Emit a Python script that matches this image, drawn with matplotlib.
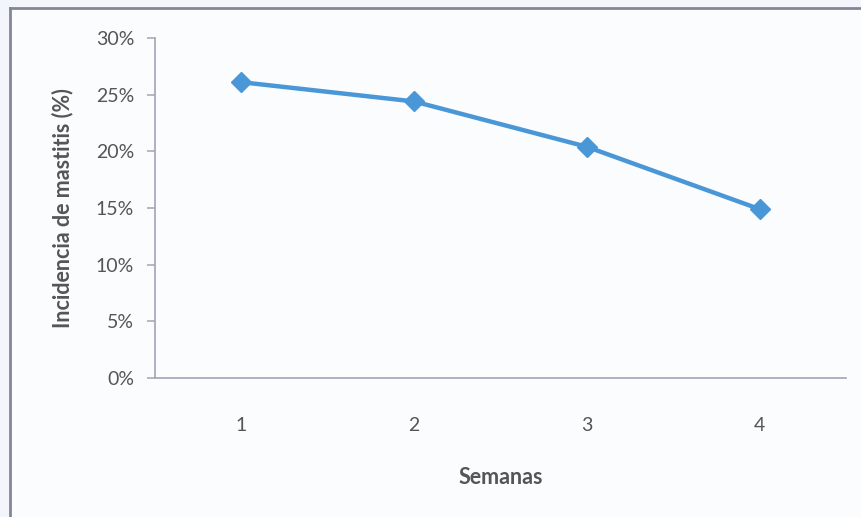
import matplotlib
matplotlib.use("Agg")
import matplotlib.pyplot as plt
from matplotlib.lines import Line2D
from matplotlib.ticker import PercentFormatter

# Weekly mastitis incidence
semanas = ["1", "2", "3", "4"]
incidencia = [26.1, 24.4, 20.4, 14.9]
y_ticks = [0, 5, 10, 15, 20, 25, 30]

plt.rcParams["font.family"] = ["Lato", "DejaVu Sans"]
text_color = "#555555"
axis_color = "#a3a3b5"
line_color = "#4a97d8"

fig = plt.figure(figsize=(8.62, 5.17), dpi=100, facecolor="#f2f5fa")

# chart frame (left and top edges)
fig.add_artist(Line2D([10 / 862, 10 / 862], [0, 1 - 8 / 517],
                      transform=fig.transFigure, color="#85859a", lw=2))
fig.add_artist(Line2D([10 / 862, 1], [1 - 8 / 517, 1 - 8 / 517],
                      transform=fig.transFigure, color="#85859a", lw=2))
fig.patches.append(plt.Rectangle((11 / 862, 0), 1, 1 - 9 / 517,
                                 transform=fig.transFigure, color="#fbfcfe",
                                 zorder=-1))

ax = fig.add_axes([155 / 862, 1 - 378 / 517, (846 - 155) / 862, (378 - 38) / 517])
ax.set_facecolor("none")

x = list(range(1, len(semanas) + 1))
ax.plot(x, incidencia, color=line_color, lw=3.2, marker="D", markersize=10,
        markeredgecolor=line_color, zorder=3)

ax.set_xlim(0.5, len(semanas) + 0.5)
ax.set_ylim(0, 30)
ax.set_xticks(x)
ax.set_xticklabels(semanas)
ax.set_yticks(y_ticks)
ax.yaxis.set_major_formatter(PercentFormatter(decimals=0))

for side in ("top", "right"):
    ax.spines[side].set_visible(False)
for side in ("left", "bottom"):
    ax.spines[side].set_color(axis_color)
    ax.spines[side].set_linewidth(1.2)

ax.tick_params(axis="y", direction="out", length=6, width=1.1, color=axis_color,
               labelsize=14, labelcolor=text_color, pad=9)
ax.tick_params(axis="x", length=0, labelsize=14, labelcolor=text_color, pad=28)

ax.set_xlabel("Semanas", fontsize=15.5, fontweight="bold", color=text_color, labelpad=24)
ax.set_ylabel("Incidencia de mastitis (%)", fontsize=15.5, fontweight="bold",
              color=text_color, labelpad=16)

fig.savefig("out.png", dpi=100, facecolor=fig.get_facecolor())
